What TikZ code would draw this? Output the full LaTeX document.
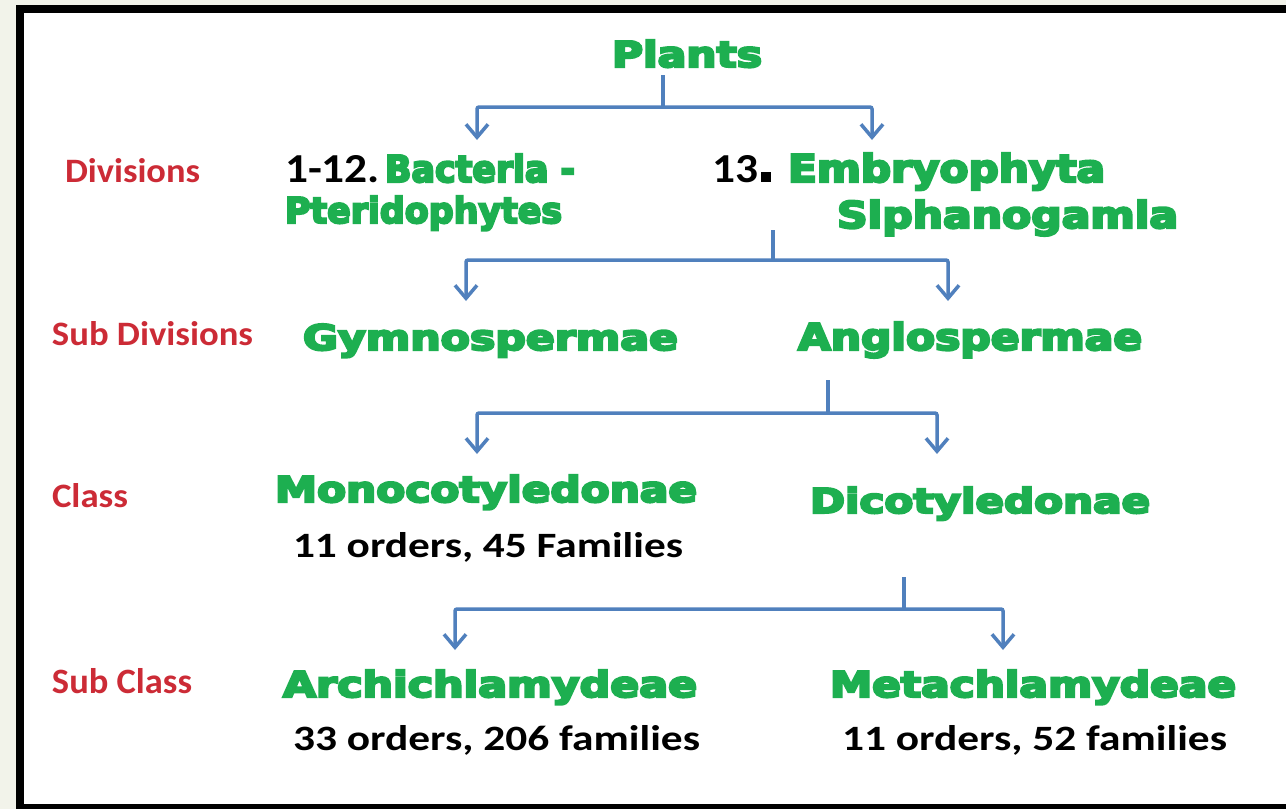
\documentclass[tikz,border=0pt]{standalone}
\usepackage{fontspec}
\usepackage{graphicx}
\usetikzlibrary{arrows.meta}
\newfontfamily\heavy{DejaVu Sans Bold}[FakeBold=6]
\newfontfamily\carlitofont{Carlito}
\definecolor{tgreen}{HTML}{1DAF50}
\definecolor{tred}{HTML}{CC2B36}
\definecolor{tblue}{HTML}{5080BD}
\definecolor{cream}{HTML}{F2F3EA}
\newcommand\gfit[3]{\resizebox{#1pt}{#2pt}{\heavy #3}}
\newcommand\cfit[3]{\resizebox{#1pt}{#2pt}{\carlitofont\bfseries #3}}
\tikzset{
  txt/.style={anchor=base west, inner sep=0pt, outer sep=0pt},
  gtxt/.style={txt, text=tgreen},
  btxt/.style={txt, text=black},
  rtxt/.style={txt, text=tred},
  conn/.style={draw=tblue, line width=3.5pt, rounded corners=2pt},
  arr/.style={conn, -{Straight Barb[length=13pt,width=22pt,line width=3.5pt]}}
}
\begin{document}
\begin{tikzpicture}[x=1pt,y=-1pt]
\useasboundingbox (0,0) rectangle (1286,809);
\fill[cream] (0,0) rectangle (1286,809);
\begin{scope}
\clip (0,0) rectangle (1286,809);
\fill[white] (20,8.5) rectangle (1300,808);
\draw[black, line width=8pt] (20,8.5) rectangle (1300,808);
\end{scope}

% level labels
\node[rtxt] (lDiv) at (65,182) {\cfit{135}{24}{Divisions}};
\node[rtxt] (lSub) at (52,345) {\cfit{201}{24}{Sub Divisions}};
\node[rtxt] (lCls) at (52,507) {\cfit{76}{24}{Class}};
\node[rtxt] (lScl) at (52,693) {\cfit{140}{25}{Sub Class}};

% nodes
\node[gtxt] (plants) at (612,67) {\gfit{150}{27}{Plants}};
\node[btxt] (n112) at (285,182) {\cfit{95}{27}{1-12.}};
\node[gtxt] (bact) at (385,182) {\gfit{190}{28}{Bacteria -}};
\node[gtxt] (pter) at (285,223) {\gfit{277}{27}{Pteridophytes}};
\node[btxt] (n13) at (712,182) {\cfit{46}{27}{13}\hspace{3pt}\rule{10pt}{10pt}};
\node[gtxt] (embr) at (788,182) {\gfit{317}{29}{Embryophyta}};
\node[gtxt] (siph) at (837,228) {\gfit{341}{28}{Siphanogamia}};
\node[gtxt] (gymn) at (303,350) {\gfit{375}{26}{Gymnospermae}};
\node[gtxt] (angi) at (798,350) {\gfit{344}{28}{Angiospermae}};
\node[gtxt] (mono) at (275,502) {\gfit{422}{27}{Monocotyledonae}};
\node[btxt] (monoI) at (293,557) {\cfit{390}{25}{11 orders, 45 Families}};
\node[gtxt] (dico) at (810,513) {\gfit{340}{26}{Dicotyledonae}};
\node[gtxt] (arch) at (283,697) {\gfit{414}{27}{Archichlamydeae}};
\node[btxt] (archI) at (293,750) {\cfit{407}{25}{33 orders, 206 families}};
\node[gtxt] (meta) at (830,697) {\gfit{406}{27}{Metachlamydeae}};
\node[btxt] (metaI) at (842,750) {\cfit{385}{25}{11 orders, 52 families}};

% connector coordinates
\coordinate (s1) at (663,75);  \coordinate (m1) at (663,107);
\coordinate (t1l) at (477,140); \coordinate (t1r) at (872,140);
\coordinate (s2) at (773,230); \coordinate (m2) at (773,260);
\coordinate (t2l) at (466,301); \coordinate (t2r) at (948,301);
\coordinate (s3) at (828,380); \coordinate (m3) at (828,413);
\coordinate (t3l) at (477,454); \coordinate (t3r) at (937,454);
\coordinate (s4) at (904,577); \coordinate (m4) at (904,609);
\coordinate (t4l) at (455,650); \coordinate (t4r) at (1003,650);

\foreach \i in {1,2,3,4}{
  \draw[conn] (s\i) -- (m\i);
  \draw[arr] (m\i) -| (t\i l);
  \draw[arr] (m\i) -| (t\i r);
}
\end{tikzpicture}
\end{document}
